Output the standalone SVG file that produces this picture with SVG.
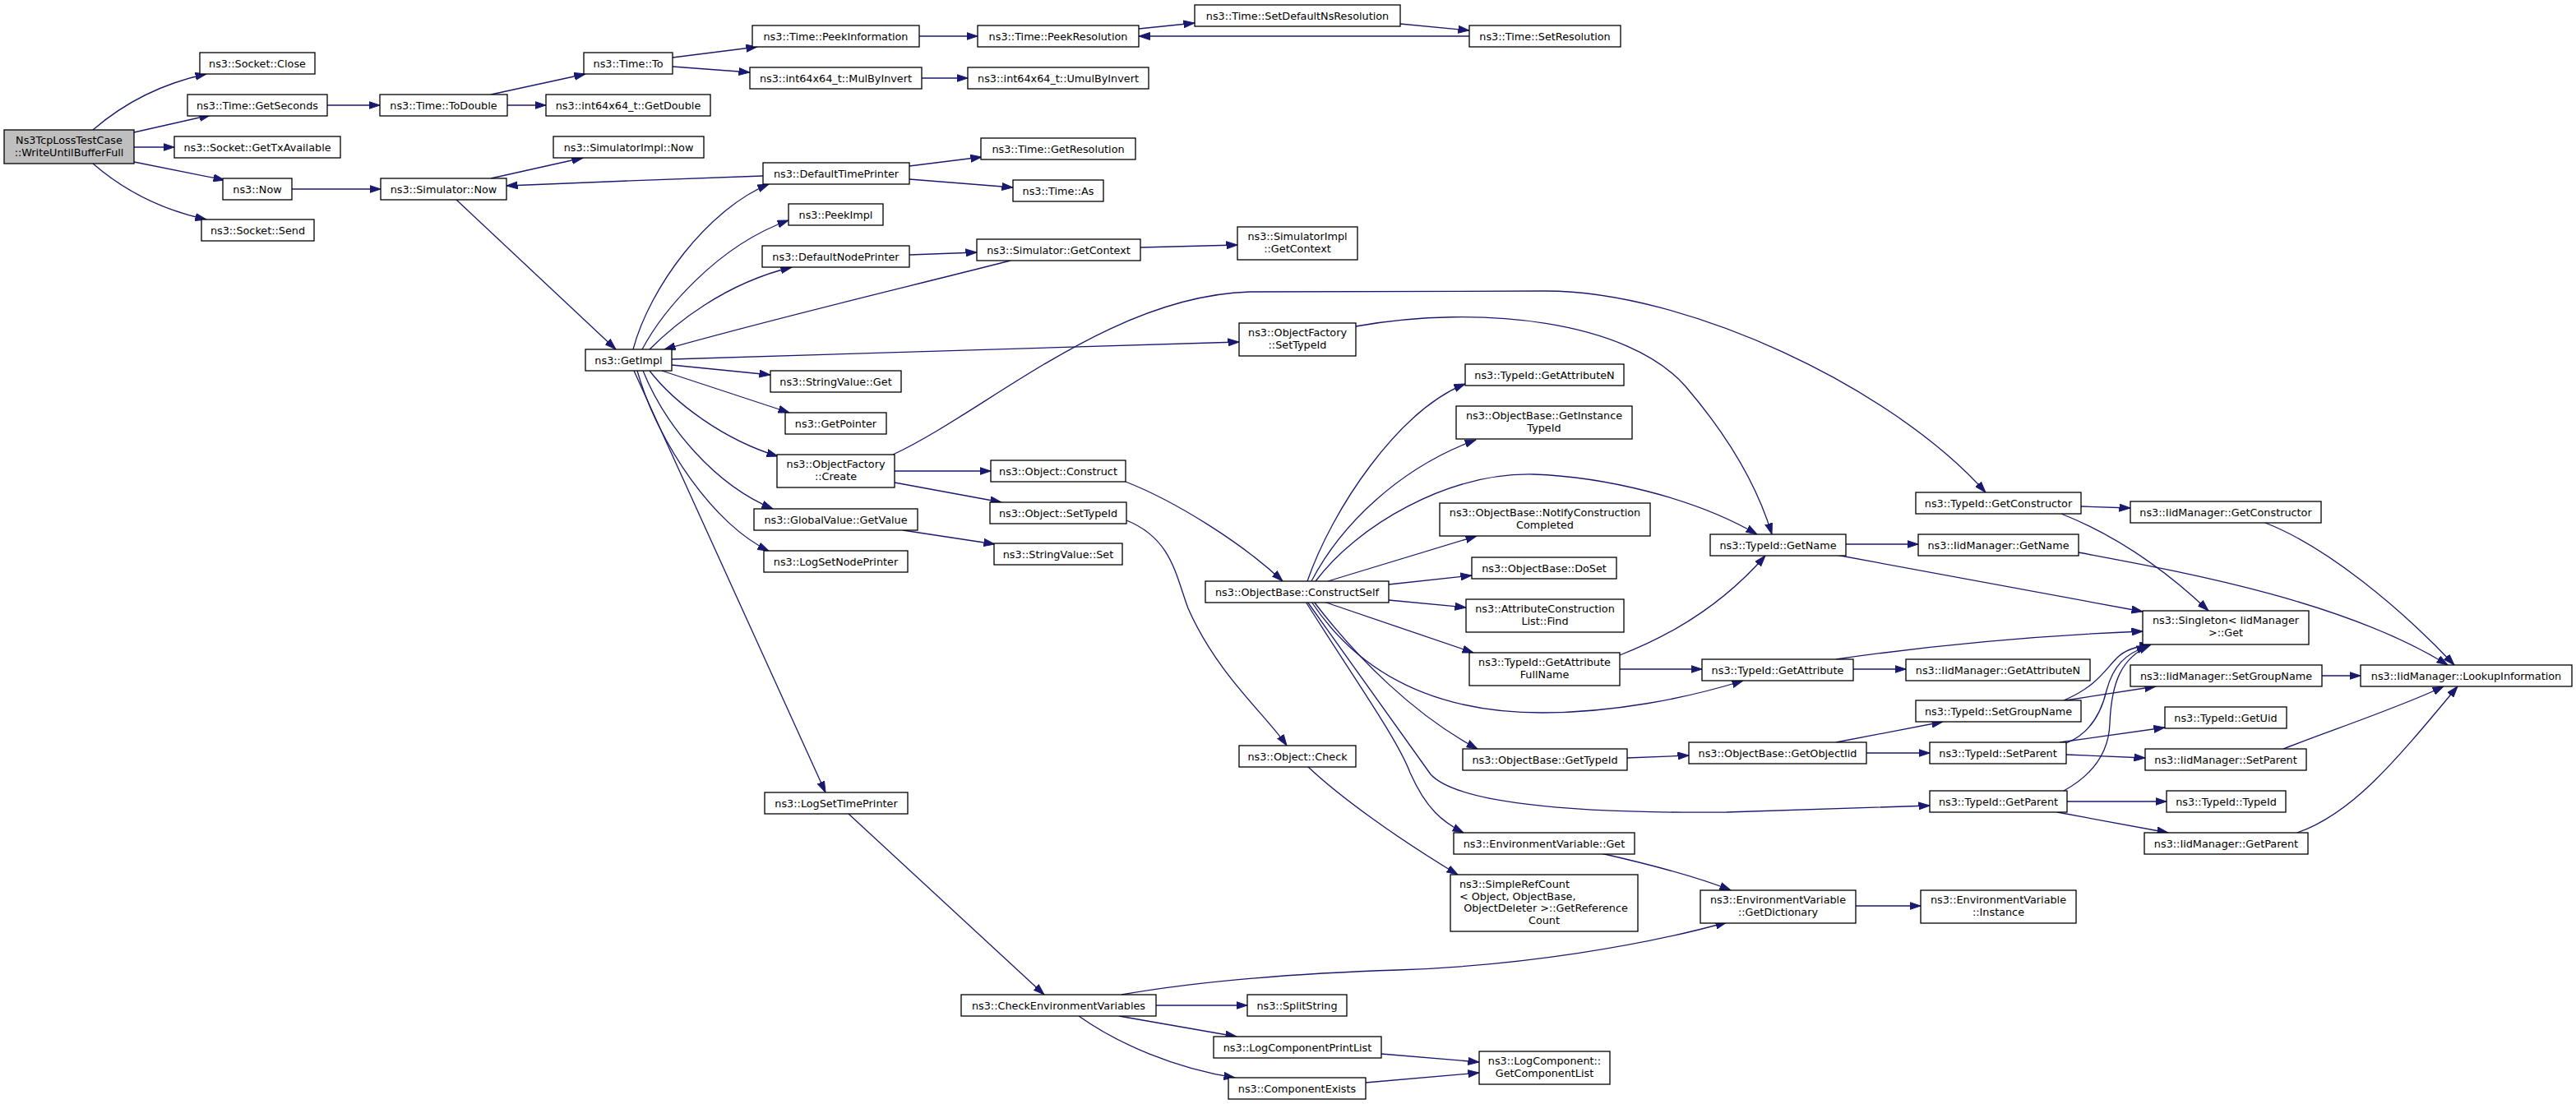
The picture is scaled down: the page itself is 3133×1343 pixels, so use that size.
<svg xmlns="http://www.w3.org/2000/svg" width="3133" height="1343" viewBox="0 0 3133 1343">
<style>
.node rect{fill:#ffffff;stroke:#000000;stroke-width:1.3}
.node.root rect{fill:#bfbfbf}
.node text{font-family:"DejaVu Sans",sans-serif;font-size:12.8px;fill:#000000;text-anchor:middle}
.node text.l{text-anchor:start}
.edges path{fill:none;stroke:#191970;stroke-width:1.3;marker-end:url(#arr)}
</style>
<defs>
<marker id="arr" markerUnits="userSpaceOnUse" markerWidth="14" markerHeight="10" viewBox="0 0 14 10" refX="13.5" refY="5" orient="auto">
<path d="M0,0.5 L13.5,5 L0,9.5 Z" fill="#191970" stroke="#191970" stroke-width="1"/>
</marker>
</defs>
<rect x="0" y="0" width="3133" height="1343" fill="#ffffff"/>
<g class="edges">
<path d="M113,158 C150,126 195,102 251,90"/>
<path d="M163,161 L256,140"/>
<path d="M163,179 L212,179"/>
<path d="M163,197 L273,219"/>
<path d="M113,199 C150,231 195,255 251,267"/>
<path d="M398,128 L462,128"/>
<path d="M597,115 L712,90"/>
<path d="M617,128 L664,128"/>
<path d="M818,70 L921,57"/>
<path d="M818,81 L912,88"/>
<path d="M1118,44 L1189,44"/>
<path d="M1121,95 L1177,95"/>
<path d="M1385,35 L1453,28"/>
<path d="M1703,29 L1787,37"/>
<path d="M1787,44 L1385,44"/>
<path d="M355,230 L463,230"/>
<path d="M597,217 L709,192"/>
<path d="M555,243 L749,425"/>
<path d="M928,214 C850,217 700,222 616,226"/>
<path d="M1106,202 L1194,191"/>
<path d="M1106,218 L1232,228"/>
<path d="M770,425 C790,350 860,255 935,224"/>
<path d="M781,425 C805,380 870,300 959,268"/>
<path d="M790,425 C820,395 880,345 963,325"/>
<path d="M1106,310 L1188,307"/>
<path d="M1387,301 L1505,298"/>
<path d="M1229,317 C1100,350 950,385 808,425"/>
<path d="M817,437 L1507,416"/>
<path d="M817,444 C860,448 900,452 937,456"/>
<path d="M805,451 L960,502"/>
<path d="M790,451 C820,490 880,535 946,555"/>
<path d="M782,451 C810,520 870,590 940,619"/>
<path d="M775,451 C800,540 870,640 935,670"/>
<path d="M771,451 L1004,964"/>
<path d="M1649,397 C1800,370 1980,390 2050,470 C2110,540 2140,600 2155,650"/>
<path d="M1086,553 C1200,500 1350,360 1520,355 L1880,354 C2050,354 2300,470 2415,599"/>
<path d="M1088,573 L1205,573"/>
<path d="M1088,587 L1218,611"/>
<path d="M1098,645 L1210,662"/>
<path d="M1369,586 C1430,610 1510,660 1560,707"/>
<path d="M1370,633 C1425,655 1430,700 1445,740 C1480,820 1540,870 1565,907"/>
<path d="M1590,932 C1630,970 1700,1020 1773,1064"/>
<path d="M1590,707 C1620,620 1700,500 1782,467"/>
<path d="M1595,707 C1630,640 1700,570 1795,535"/>
<path d="M1600,707 C1650,640 1760,575 1865,577 C1950,580 2060,605 2137,650"/>
<path d="M1615,707 L1796,652"/>
<path d="M1689,711 L1790,700"/>
<path d="M1689,730 L1783,739"/>
<path d="M1610,732 L1792,794"/>
<path d="M1595,732 C1640,800 1720,867 1876,867 C1960,867 2050,850 2120,828"/>
<path d="M1598,732 C1650,800 1720,870 1797,911"/>
<path d="M1590,732 L1740,942 C1770,975 1900,990 2100,988 L2347,980"/>
<path d="M1588,732 C1650,830 1700,900 1715,940 C1735,985 1755,1000 1780,1013"/>
<path d="M1970,797 C2040,770 2100,730 2147,676"/>
<path d="M1970,814 L2070,814"/>
<path d="M2245,662 L2333,662"/>
<path d="M2233,675 L2606,744"/>
<path d="M2531,616 L2591,618"/>
<path d="M2507,625 C2570,650 2630,690 2686,743"/>
<path d="M2755,636 C2830,665 2920,740 2985,809"/>
<path d="M2528,672 C2650,695 2850,730 2977,809"/>
<path d="M2233,802 C2350,785 2480,773 2606,768"/>
<path d="M2254,814 L2318,814"/>
<path d="M1979,922 L2054,919"/>
<path d="M2233,903 L2363,878"/>
<path d="M2270,916 L2347,916"/>
<path d="M2510,852 C2550,835 2560,815 2575,800 C2585,790 2600,786 2616,784"/>
<path d="M2512,852 L2622,835"/>
<path d="M2513,904 C2540,893 2555,870 2562,840 C2570,810 2585,795 2612,786"/>
<path d="M2505,903 L2633,885"/>
<path d="M2513,918 L2609,922"/>
<path d="M2510,962 C2550,940 2565,910 2566,880 C2568,830 2580,800 2615,785"/>
<path d="M2514,975 L2635,975"/>
<path d="M2502,988 L2637,1013"/>
<path d="M2824,822 L2871,822"/>
<path d="M2777,911 C2830,890 2920,860 2972,835"/>
<path d="M2794,1013 C2860,990 2910,930 2989,835"/>
<path d="M1947,1038 C2000,1050 2060,1065 2105,1083"/>
<path d="M2257,1102 L2336,1102"/>
<path d="M1032,990 L1270,1210"/>
<path d="M1364,1210 C1450,1195 1550,1185 1700,1180 C1850,1175 2000,1150 2100,1122"/>
<path d="M1406,1223 L1517,1223"/>
<path d="M1361,1236 L1504,1261"/>
<path d="M1312,1236 C1360,1270 1430,1300 1502,1311"/>
<path d="M1680,1282 L1799,1292"/>
<path d="M1661,1317 L1799,1305"/>
</g>
<g id="n_root" class="node root"><rect x="5" y="158" width="158" height="41"/><text x="84" y="175">Ns3TcpLossTestCase</text><text x="84" y="189.5">::WriteUntilBufferFull</text></g>
<g id="n_close" class="node"><rect x="243" y="64" width="140" height="26"/><text x="313" y="82">ns3::Socket::Close</text></g>
<g id="n_getseconds" class="node"><rect x="228" y="115" width="170" height="26"/><text x="313" y="133">ns3::Time::GetSeconds</text></g>
<g id="n_gettxavail" class="node"><rect x="212" y="166" width="202" height="26"/><text x="313" y="184">ns3::Socket::GetTxAvailable</text></g>
<g id="n_now" class="node"><rect x="271" y="217" width="84" height="26"/><text x="313" y="235">ns3::Now</text></g>
<g id="n_send" class="node"><rect x="245" y="267" width="137" height="26"/><text x="313.5" y="285">ns3::Socket::Send</text></g>
<g id="n_todouble" class="node"><rect x="462" y="115" width="155" height="26"/><text x="539.5" y="133">ns3::Time::ToDouble</text></g>
<g id="n_simnow" class="node"><rect x="463" y="217" width="153" height="26"/><text x="539.5" y="235">ns3::Simulator::Now</text></g>
<g id="n_to" class="node"><rect x="710" y="64" width="108" height="26"/><text x="764" y="82">ns3::Time::To</text></g>
<g id="n_getdouble" class="node"><rect x="664" y="115" width="200" height="26"/><text x="764" y="133">ns3::int64x64_t::GetDouble</text></g>
<g id="n_simimplnow" class="node"><rect x="673" y="166" width="183" height="26"/><text x="764.5" y="184">ns3::SimulatorImpl::Now</text></g>
<g id="n_getimpl" class="node"><rect x="712" y="425" width="105" height="26"/><text x="764.5" y="443">ns3::GetImpl</text></g>
<g id="n_peekinfo" class="node"><rect x="915" y="31" width="203" height="26"/><text x="1016.5" y="49">ns3::Time::PeekInformation</text></g>
<g id="n_mulbyinv" class="node"><rect x="912" y="82" width="209" height="26"/><text x="1016.5" y="100">ns3::int64x64_t::MulByInvert</text></g>
<g id="n_dtp" class="node"><rect x="928" y="198" width="178" height="26"/><text x="1017" y="216">ns3::DefaultTimePrinter</text></g>
<g id="n_peekimpl" class="node"><rect x="959" y="248" width="115" height="26"/><text x="1016.5" y="266">ns3::PeekImpl</text></g>
<g id="n_dnp" class="node"><rect x="927" y="299" width="179" height="26"/><text x="1016.5" y="317">ns3::DefaultNodePrinter</text></g>
<g id="n_svget" class="node"><rect x="937" y="451" width="159" height="26"/><text x="1016.5" y="469">ns3::StringValue::Get</text></g>
<g id="n_getpointer" class="node"><rect x="955" y="502" width="123" height="26"/><text x="1016.5" y="520">ns3::GetPointer</text></g>
<g id="n_create" class="node"><rect x="945" y="553" width="143" height="40"/><text x="1016.5" y="569">ns3::ObjectFactory</text><text x="1016.5" y="584">::Create</text></g>
<g id="n_gvgetvalue" class="node"><rect x="917" y="619" width="199" height="26"/><text x="1016.5" y="637">ns3::GlobalValue::GetValue</text></g>
<g id="n_logsetnode" class="node"><rect x="929" y="670" width="175" height="26"/><text x="1016.5" y="688">ns3::LogSetNodePrinter</text></g>
<g id="n_logsettime" class="node"><rect x="930" y="964" width="174" height="26"/><text x="1017" y="982">ns3::LogSetTimePrinter</text></g>
<g id="n_peekres" class="node"><rect x="1189" y="31" width="196" height="26"/><text x="1287" y="49">ns3::Time::PeekResolution</text></g>
<g id="n_umul" class="node"><rect x="1177" y="82" width="220" height="26"/><text x="1287" y="100">ns3::int64x64_t::UmulByInvert</text></g>
<g id="n_getres" class="node"><rect x="1193" y="168" width="188" height="26"/><text x="1287" y="186">ns3::Time::GetResolution</text></g>
<g id="n_as" class="node"><rect x="1232" y="219" width="110" height="26"/><text x="1287" y="237">ns3::Time::As</text></g>
<g id="n_getcontext" class="node"><rect x="1188" y="291" width="199" height="26"/><text x="1287.5" y="309">ns3::Simulator::GetContext</text></g>
<g id="n_construct" class="node"><rect x="1205" y="560" width="164" height="26"/><text x="1287" y="578">ns3::Object::Construct</text></g>
<g id="n_objsettypeid" class="node"><rect x="1204" y="611" width="166" height="26"/><text x="1287" y="629">ns3::Object::SetTypeId</text></g>
<g id="n_svset" class="node"><rect x="1209" y="661" width="156" height="26"/><text x="1287" y="679">ns3::StringValue::Set</text></g>
<g id="n_checkenv" class="node"><rect x="1169" y="1210" width="237" height="26"/><text x="1287.5" y="1228">ns3::CheckEnvironmentVariables</text></g>
<g id="n_setdefns" class="node"><rect x="1453" y="6" width="250" height="26"/><text x="1578" y="24">ns3::Time::SetDefaultNsResolution</text></g>
<g id="n_simimplctx" class="node"><rect x="1505" y="276" width="146" height="40"/><text x="1578" y="292">ns3::SimulatorImpl</text><text x="1578" y="307">::GetContext</text></g>
<g id="n_ofsettypeid" class="node"><rect x="1507" y="393" width="142" height="40"/><text x="1578" y="409">ns3::ObjectFactory</text><text x="1578" y="424">::SetTypeId</text></g>
<g id="n_constructself" class="node"><rect x="1466" y="707" width="223" height="26"/><text x="1577.5" y="725">ns3::ObjectBase::ConstructSelf</text></g>
<g id="n_check" class="node"><rect x="1507" y="907" width="142" height="26"/><text x="1578" y="925">ns3::Object::Check</text></g>
<g id="n_splitstring" class="node"><rect x="1517" y="1210" width="121" height="26"/><text x="1577.5" y="1228">ns3::SplitString</text></g>
<g id="n_lcprintlist" class="node"><rect x="1476" y="1261" width="204" height="26"/><text x="1578" y="1279">ns3::LogComponentPrintList</text></g>
<g id="n_compexists" class="node"><rect x="1494" y="1311" width="167" height="26"/><text x="1577.5" y="1329">ns3::ComponentExists</text></g>
<g id="n_setres" class="node"><rect x="1787" y="31" width="184" height="26"/><text x="1879" y="49">ns3::Time::SetResolution</text></g>
<g id="n_getattrn" class="node"><rect x="1782" y="443" width="193" height="26"/><text x="1878.5" y="461">ns3::TypeId::GetAttributeN</text></g>
<g id="n_getinsttid" class="node"><rect x="1771" y="494" width="214" height="40"/><text x="1878" y="510">ns3::ObjectBase::GetInstance</text><text x="1878" y="525">TypeId</text></g>
<g id="n_notify" class="node"><rect x="1751" y="612" width="256" height="40"/><text x="1879" y="628">ns3::ObjectBase::NotifyConstruction</text><text x="1879" y="643">Completed</text></g>
<g id="n_doset" class="node"><rect x="1790" y="678" width="176" height="26"/><text x="1878" y="696">ns3::ObjectBase::DoSet</text></g>
<g id="n_acfind" class="node"><rect x="1783" y="729" width="192" height="40"/><text x="1879" y="745">ns3::AttributeConstruction</text><text x="1879" y="760">List::Find</text></g>
<g id="n_getattrfull" class="node"><rect x="1787" y="794" width="183" height="40"/><text x="1878.5" y="810">ns3::TypeId::GetAttribute</text><text x="1878.5" y="825">FullName</text></g>
<g id="n_obgettypeid" class="node"><rect x="1779" y="911" width="200" height="26"/><text x="1879" y="929">ns3::ObjectBase::GetTypeId</text></g>
<g id="n_envget" class="node"><rect x="1768" y="1013" width="220" height="26"/><text x="1878" y="1031">ns3::EnvironmentVariable::Get</text></g>
<g id="n_simplerefcount" class="node"><rect x="1764" y="1064" width="228" height="69"/><text class="l" x="1775" y="1080">ns3::SimpleRefCount</text><text class="l" x="1775" y="1095">&lt; Object, ObjectBase,</text><text x="1880" y="1109">ObjectDeleter &gt;::GetReference</text><text x="1878" y="1124">Count</text></g>
<g id="n_getcomplist" class="node"><rect x="1799" y="1279" width="159" height="40"/><text x="1878.5" y="1295">ns3::LogComponent::</text><text x="1878.5" y="1310">GetComponentList</text></g>
<g id="n_getname" class="node"><rect x="2080" y="650" width="165" height="26"/><text x="2162.5" y="668">ns3::TypeId::GetName</text></g>
<g id="n_getattr" class="node"><rect x="2070" y="802" width="184" height="26"/><text x="2162" y="820">ns3::TypeId::GetAttribute</text></g>
<g id="n_getobjiid" class="node"><rect x="2054" y="903" width="216" height="26"/><text x="2162" y="921">ns3::ObjectBase::GetObjectIid</text></g>
<g id="n_getdict" class="node"><rect x="2068" y="1083" width="189" height="40"/><text x="2162.5" y="1099">ns3::EnvironmentVariable</text><text x="2162.5" y="1114">::GetDictionary</text></g>
<g id="n_getctor" class="node"><rect x="2330" y="599" width="201" height="26"/><text x="2430.5" y="617">ns3::TypeId::GetConstructor</text></g>
<g id="n_iidgetname" class="node"><rect x="2333" y="650" width="195" height="26"/><text x="2430.5" y="668">ns3::IidManager::GetName</text></g>
<g id="n_iidgetattrn" class="node"><rect x="2318" y="802" width="224" height="26"/><text x="2430" y="820">ns3::IidManager::GetAttributeN</text></g>
<g id="n_setgroup" class="node"><rect x="2330" y="852" width="201" height="26"/><text x="2430.5" y="870">ns3::TypeId::SetGroupName</text></g>
<g id="n_setparent" class="node"><rect x="2347" y="903" width="166" height="26"/><text x="2430" y="921">ns3::TypeId::SetParent</text></g>
<g id="n_getparent" class="node"><rect x="2347" y="962" width="167" height="26"/><text x="2430.5" y="980">ns3::TypeId::GetParent</text></g>
<g id="n_instance" class="node"><rect x="2336" y="1083" width="189" height="40"/><text x="2430.5" y="1099">ns3::EnvironmentVariable</text><text x="2430.5" y="1114">::Instance</text></g>
<g id="n_iidgetctor" class="node"><rect x="2591" y="610" width="232" height="26"/><text x="2707" y="628">ns3::IidManager::GetConstructor</text></g>
<g id="n_singleton" class="node"><rect x="2606" y="743" width="202" height="41"/><text x="2707" y="759">ns3::Singleton&lt; IidManager</text><text x="2707" y="774">&gt;::Get</text></g>
<g id="n_iidsetgroup" class="node"><rect x="2591" y="809" width="233" height="26"/><text x="2707.5" y="827">ns3::IidManager::SetGroupName</text></g>
<g id="n_getuid" class="node"><rect x="2633" y="860" width="148" height="26"/><text x="2707" y="878">ns3::TypeId::GetUid</text></g>
<g id="n_iidsetparent" class="node"><rect x="2609" y="911" width="196" height="26"/><text x="2707" y="929">ns3::IidManager::SetParent</text></g>
<g id="n_typeid" class="node"><rect x="2635" y="962" width="145" height="26"/><text x="2707.5" y="980">ns3::TypeId::TypeId</text></g>
<g id="n_iidgetparent" class="node"><rect x="2608" y="1013" width="199" height="26"/><text x="2707.5" y="1031">ns3::IidManager::GetParent</text></g>
<g id="n_lookup" class="node"><rect x="2871" y="809" width="257" height="26"/><text x="2999.5" y="827">ns3::IidManager::LookupInformation</text></g>
</svg>
